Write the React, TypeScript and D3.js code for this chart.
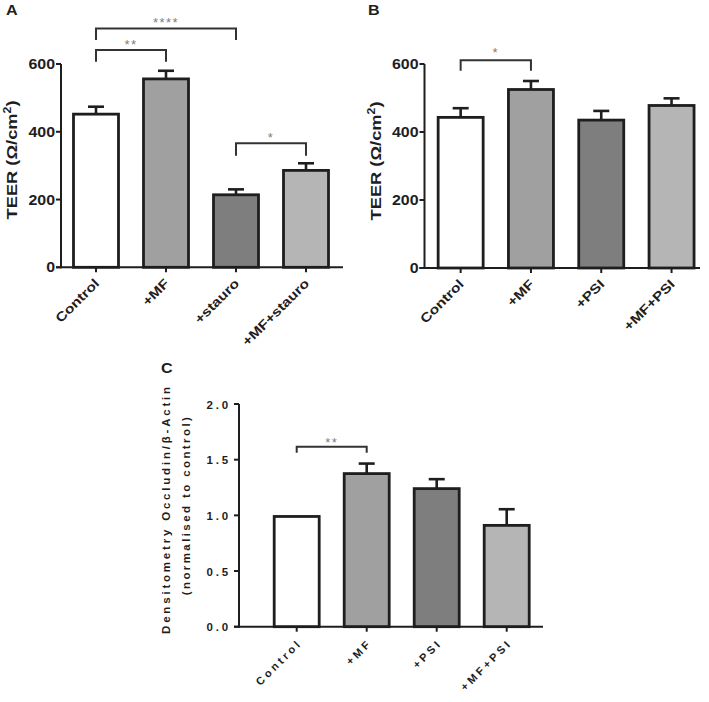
import React from 'react';
import * as d3 from 'd3';

// ---------- DATA ----------
const catsA = ['Control', '+MF', '+stauro', '+MF+stauro'];
const meansA = [452, 556, 214, 286];
const errsA = [22, 24, 16, 21];

const catsB = ['Control', '+MF', '+PSI', '+MF+PSI'];
const meansB = [443, 525, 435, 478];
const errsB = [27, 25, 27, 21];

const catsC = ['Control', '+MF', '+PSI', '+MF+PSI'];
const meansC = [0.99, 1.375, 1.24, 0.91];
const errsC = [0, 0.09, 0.085, 0.145];

const ticksTEER = [0, 200, 400, 600];
const ticksC = [0, 0.5, 1.0, 1.5, 2.0];

// brackets: from/to category index, top value, drop value, label
const bracketsA = [
  { from: 0, to: 2, top: 705, drop: 671, label: '****' },
  { from: 0, to: 1, top: 641, drop: 607, label: '**' },
  { from: 2, to: 3, top: 366, drop: 329, label: '*' },
];
const bracketsB = [{ from: 0, to: 1, top: 611, drop: 580, label: '*' }];
const bracketsC = [{ from: 0, to: 1, top: 1.617, drop: 1.563, label: '**' }];

const fills = ['#ffffff', '#a0a0a0', '#7e7e7e', '#b5b5b5'];

const FONT = "'Liberation Sans', Arial, Helvetica, sans-serif";
const INK = '#1e1e1e';

type TProps = {
  x: number; y: number; rot?: number; sx?: number; size: number;
  anchor?: string; weight?: string | number; ls?: number; fill?: string; children: React.ReactNode;
};
function SText({ x, y, rot = 0, sx = 1, size, anchor = 'start', weight = 'bold', ls = 0, fill = INK, children }: TProps) {
  return (
    <text
      transform={`translate(${x},${y}) rotate(${rot}) scale(${sx},1)`}
      fontSize={size}
      textAnchor={anchor}
      fontWeight={weight}
      letterSpacing={ls}
      fill={fill}
      fontFamily={FONT}
    >
      {children}
    </text>
  );
}

type PanelProps = {
  cats: string[]; means: number[]; errs: number[]; ticks: number[]; domainMax: number;
  axisX: number; y0: number; yTop: number; xStart: number; step: number; axisEnd: number;
  brackets: { from: number; to: number; top: number; drop: number; label: string }[];
  fmt: (v: number) => string; spaced: boolean; starDy: number;
};

function Panel(p: PanelProps) {
  const y = d3.scaleLinear().domain([0, p.domainMax]).range([p.y0, p.yTop]);
  const x = d3.scalePoint<string>().domain(p.cats).range([p.xStart, p.xStart + 4 * p.step]).padding(0.5);
  const bw = 45;
  const cap = 8;
  return (
    <g>
      {/* bars */}
      {p.cats.map((c, i) => {
        const cx = x(c)!;
        const top = y(p.means[i]);
        const errTop = y(p.means[i] + p.errs[i]);
        return (
          <g key={c}>
            {p.errs[i] > 0 && (
              <g stroke={INK} strokeWidth={2.6}>
                <line x1={cx} x2={cx} y1={top} y2={errTop} />
                <line x1={cx - cap} x2={cx + cap} y1={errTop} y2={errTop} />
              </g>
            )}
            <rect x={cx - bw / 2} y={top} width={bw} height={p.y0 - top}
              fill={fills[i]} stroke={INK} strokeWidth={2.8} />
          </g>
        );
      })}
      {/* y axis */}
      <line x1={p.axisX} x2={p.axisX} y1={y(p.domainMax)} y2={p.y0 + 1} stroke={INK} strokeWidth={2} />
      {p.ticks.map((t) => (
        <g key={t}>
          <line x1={p.axisX - 5} x2={p.axisX} y1={y(t)} y2={y(t)} stroke={INK} strokeWidth={2} />
          {p.spaced ? (
            <SText x={p.axisX - 8} y={y(t) + 4.5} size={11.5} anchor="end" ls={2.8}>{p.fmt(t)}</SText>
          ) : (
            <SText x={p.axisX - 6} y={y(t) + 5} size={14} sx={1.14} anchor="end">{p.fmt(t)}</SText>
          )}
        </g>
      ))}
      {/* x axis */}
      <line x1={p.axisX - 5} x2={p.axisEnd} y1={p.y0} y2={p.y0} stroke={INK} strokeWidth={2} />
      {p.cats.map((c) => (
        <g key={'xt' + c}>
          <line x1={x(c)!} x2={x(c)!} y1={p.y0} y2={p.y0 + 5} stroke={INK} strokeWidth={2} />
          {p.spaced ? (
            <SText x={x(c)! + 6} y={p.y0 + 17} rot={-45} size={11} anchor="end" ls={3}>{c}</SText>
          ) : (
            <SText x={x(c)! + 4} y={p.y0 + 17} rot={-45} size={13} sx={1.2} anchor="end">{c}</SText>
          )}
        </g>
      ))}
      {/* brackets */}
      {p.brackets.map((b, i) => {
        const xa = x(p.cats[b.from])!;
        const xb = x(p.cats[b.to])!;
        const yt = y(b.top);
        const yd = y(b.drop);
        return (
          <g key={'br' + i}>
            <path d={`M${xa},${yd} V${yt} H${xb} V${yd}`} fill="none" stroke="#333" strokeWidth={2} />
            <SText x={(xa + xb) / 2} y={yt - p.starDy} size={13} anchor="middle" weight="normal" ls={1.5} fill="#808080">
              {b.label}
            </SText>
          </g>
        );
      })}
    </g>
  );
}

export default function App() {
  return (
    <svg width={709} height={702} style={{ position: 'absolute', left: 0, top: 0, display: 'block' }}>
      <rect width={709} height={702} fill="#ffffff" />
      {/* Panel A */}
      <SText x={6} y={15} size={14} sx={1.15}>A</SText>
      <Panel cats={catsA} means={meansA} errs={errsA} ticks={ticksTEER} domainMax={600}
        axisX={61} y0={267.3} yTop={64} xStart={61} step={70} axisEnd={343}
        brackets={bracketsA} fmt={(v) => String(v)} spaced={false} starDy={1} />
      <SText x={17} y={160} rot={-90} size={15} sx={1.22} anchor="middle">
        TEER (Ω/cm<tspan dy={-6} fontSize={10}>2</tspan><tspan dy={6}>)</tspan>
      </SText>

      {/* Panel B */}
      <SText x={368} y={15} size={14} sx={1.15}>B</SText>
      <Panel cats={catsB} means={meansB} errs={errsB} ticks={ticksTEER} domainMax={600}
        axisX={424.5} y0={268} yTop={64} xStart={425.5} step={70.3} axisEnd={700}
        brackets={bracketsB} fmt={(v) => String(v)} spaced={false} starDy={3} />
      <SText x={381} y={161} rot={-90} size={15} sx={1.22} anchor="middle">
        TEER (Ω/cm<tspan dy={-6} fontSize={10}>2</tspan><tspan dy={6}>)</tspan>
      </SText>

      {/* Panel C */}
      <SText x={161} y={373} size={14} sx={1.15}>C</SText>
      <Panel cats={catsC} means={meansC} errs={errsC} ticks={ticksC} domainMax={2}
        axisX={239} y0={626.7} yTop={404} xStart={261.7} step={70} axisEnd={543}
        brackets={bracketsC} fmt={(v) => v.toFixed(1)} spaced={true} starDy={0} />
      <SText x={170} y={509} rot={-90} size={11.5} anchor="middle" ls={2.8}>
        Densitometry Occludin/β-Actin
      </SText>
      <SText x={190} y={505} rot={-90} size={11.5} anchor="middle" ls={2.4}>
        (normalised to control)
      </SText>
    </svg>
  );
}
